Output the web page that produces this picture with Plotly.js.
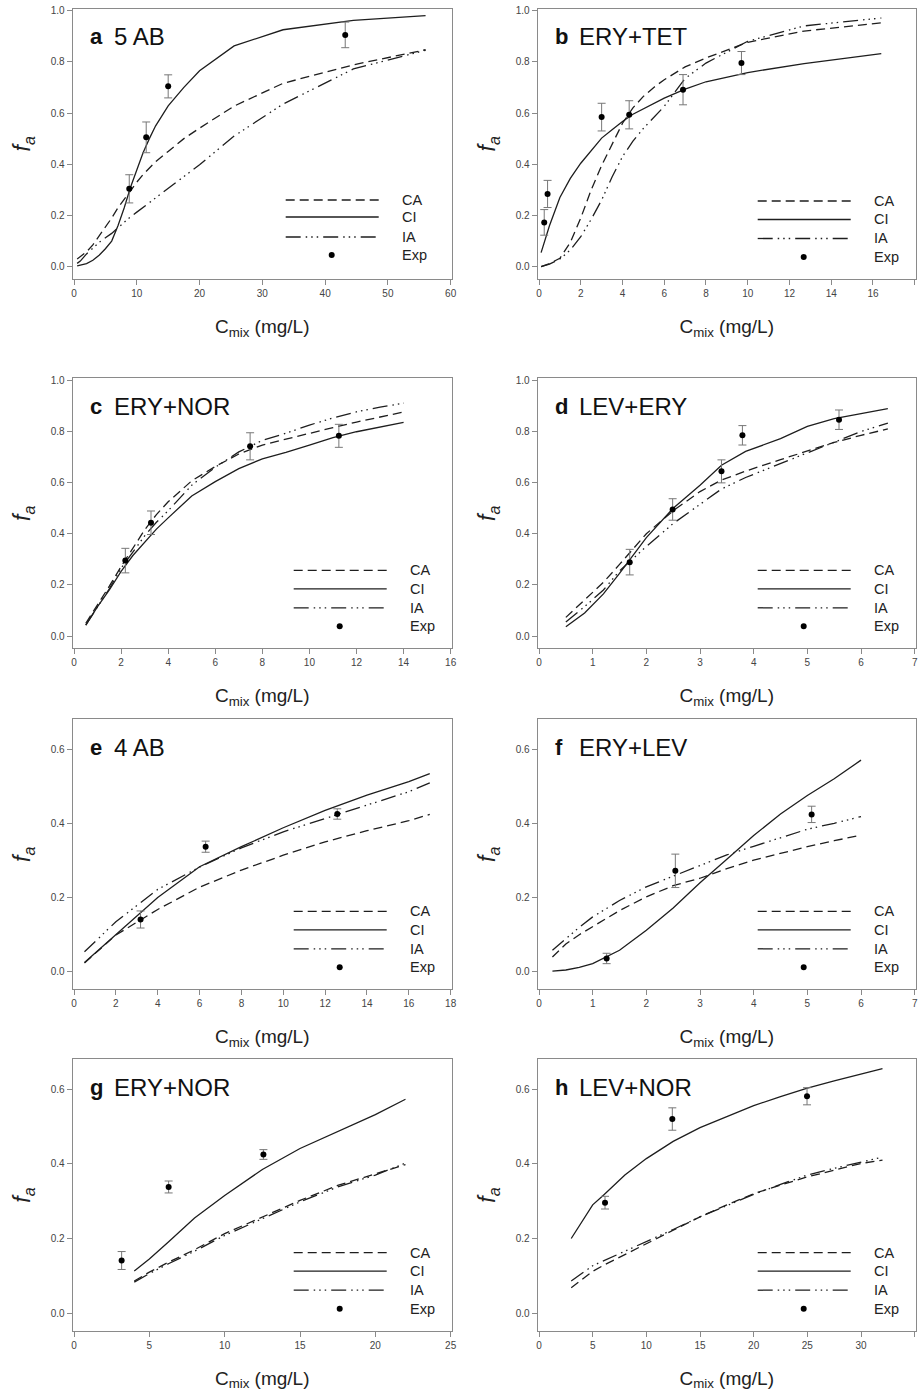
<!DOCTYPE html>
<html>
<head>
<meta charset="utf-8">
<script src="https://cdn.plot.ly/plotly-3.0.1.min.js"></script>
<style>html,body{margin:0;padding:0;background:#fff;}#chart{width:920px;height:1392px;}</style>
</head>
<body>
<div id="chart"></div>
<script>
// ---------- DATA ----------
// Panel a: 5 AB
const A_X   = [0.5, 1, 2, 3, 4, 5, 6, 7, 8, 9, 10, 11, 12, 13, 15, 17.5, 20, 25.5, 33.3, 44.5, 56];
const A_CA  = [0.03, 0.04, 0.058, 0.085, 0.12, 0.155, 0.19, 0.23, 0.265, 0.3, 0.33, 0.36, 0.385, 0.41, 0.45, 0.5, 0.541, 0.627, 0.716, 0.788, 0.847];
const A_CI  = [0.003, 0.005, 0.012, 0.025, 0.045, 0.07, 0.1, 0.16, 0.23, 0.31, 0.38, 0.445, 0.5, 0.55, 0.628, 0.70, 0.765, 0.862, 0.925, 0.962, 0.98];
const A_IA  = [0.013, 0.022, 0.05, 0.072, 0.095, 0.113, 0.13, 0.152, 0.175, 0.195, 0.213, 0.232, 0.25, 0.268, 0.305, 0.352, 0.398, 0.51, 0.635, 0.772, 0.845];
const A_EXP_X   = [8.8, 11.5, 15.0, 43.2];
const A_EXP_Y   = [0.304, 0.505, 0.704, 0.905];
const A_EXP_ERR = [0.055, 0.06, 0.045, 0.05];

// Panel b: ERY+TET
const B_X   = [0.1, 0.5, 1, 1.5, 2, 2.5, 3, 3.5, 4, 4.5, 5, 5.5, 6, 7, 8, 10, 12.7, 16.4];
const B_CA  = [0.0, 0.012, 0.033, 0.095, 0.19, 0.30, 0.395, 0.48, 0.56, 0.62, 0.665, 0.70, 0.73, 0.78, 0.815, 0.876, 0.92, 0.952];
const B_CI  = [0.055, 0.16, 0.27, 0.345, 0.404, 0.455, 0.502, 0.535, 0.567, 0.595, 0.617, 0.638, 0.658, 0.693, 0.722, 0.758, 0.793, 0.832];
const B_IA  = [0.0, 0.01, 0.03, 0.065, 0.117, 0.185, 0.26, 0.35, 0.43, 0.49, 0.54, 0.585, 0.626, 0.735, 0.795, 0.88, 0.94, 0.971];
const B_EXP_X   = [0.25, 0.41, 3.0, 4.32, 6.9, 9.7];
const B_EXP_Y   = [0.173, 0.284, 0.584, 0.593, 0.691, 0.795];
const B_EXP_ERR = [0.05, 0.053, 0.054, 0.055, 0.059, 0.045];

// Panel c: ERY+NOR
const C_X   = [0.5, 1, 1.5, 2, 2.5, 3, 3.5, 4, 5, 6, 7, 8, 9, 10, 11, 12, 13, 14];
const C_CA  = [0.05, 0.12, 0.195, 0.272, 0.345, 0.415, 0.475, 0.525, 0.607, 0.663, 0.712, 0.747, 0.77, 0.794, 0.815, 0.837, 0.857, 0.876];
const C_CI  = [0.043, 0.115, 0.18, 0.253, 0.315, 0.368, 0.418, 0.462, 0.548, 0.604, 0.655, 0.693, 0.718, 0.747, 0.776, 0.799, 0.818, 0.836];
const C_IA  = [0.043, 0.115, 0.185, 0.265, 0.33, 0.392, 0.445, 0.49, 0.59, 0.66, 0.72, 0.765, 0.793, 0.825, 0.853, 0.877, 0.895, 0.911];
const C_EXP_X   = [2.18, 3.27, 7.48, 11.25];
const C_EXP_Y   = [0.295, 0.443, 0.742, 0.783];
const C_EXP_ERR = [0.048, 0.046, 0.053, 0.045];

// Panel d: LEV+ERY
const D_X   = [0.5, 0.85, 1.2, 1.5, 2, 2.5, 3, 3.4, 3.85, 4.5, 5, 5.5, 6, 6.5];
const D_CA  = [0.073, 0.14, 0.21, 0.28, 0.40, 0.49, 0.565, 0.61, 0.645, 0.69, 0.725, 0.757, 0.785, 0.81];
const D_CI  = [0.036, 0.09, 0.165, 0.245, 0.385, 0.5, 0.59, 0.668, 0.722, 0.772, 0.82, 0.85, 0.87, 0.889];
const D_IA  = [0.055, 0.115, 0.18, 0.255, 0.35, 0.44, 0.515, 0.575, 0.62, 0.675, 0.715, 0.76, 0.80, 0.833];
const D_EXP_X   = [1.69, 2.49, 3.40, 3.79, 5.59];
const D_EXP_Y   = [0.289, 0.495, 0.644, 0.785, 0.846];
const D_EXP_ERR = [0.05, 0.042, 0.045, 0.038, 0.038];

// Panel e: 4 AB
const E_X   = [0.5, 2, 4, 6, 8, 10, 12, 14, 16, 17];
const E_CA  = [0.024, 0.099, 0.168, 0.228, 0.274, 0.314, 0.35, 0.38, 0.407, 0.424];
const E_CI  = [0.025, 0.099, 0.2, 0.283, 0.337, 0.388, 0.435, 0.476, 0.512, 0.534];
const E_IA  = [0.054, 0.135, 0.222, 0.282, 0.334, 0.377, 0.413, 0.449, 0.485, 0.509];
const E_EXP_X   = [3.18, 6.29, 12.58];
const E_EXP_Y   = [0.141, 0.337, 0.425];
const E_EXP_ERR = [0.023, 0.015, 0.014];

// Panel f: ERY+LEV
const F_X   = [0.25, 0.5, 0.75, 1, 1.5, 2, 2.5, 3, 3.5, 4, 4.5, 5, 5.5, 6];
const F_CA  = [0.04, 0.075, 0.1, 0.121, 0.165, 0.202, 0.232, 0.252, 0.278, 0.301, 0.32, 0.337, 0.353, 0.368];
const F_CI  = [0.002, 0.005, 0.012, 0.022, 0.058, 0.112, 0.172, 0.24, 0.303, 0.367, 0.425, 0.475, 0.52, 0.57];
const F_IA  = [0.058, 0.09, 0.12, 0.148, 0.192, 0.229, 0.258, 0.288, 0.315, 0.338, 0.362, 0.384, 0.4, 0.418];
const F_EXP_X   = [1.26, 2.54, 5.08];
const F_EXP_Y   = [0.036, 0.272, 0.424];
const F_EXP_ERR = [0.014, 0.045, 0.022];

// Panel g: ERY+NOR
const G_X   = [4, 5, 6.3, 8, 10, 12.5, 15, 17.5, 20, 22];
const G_CA  = [0.086, 0.11, 0.137, 0.17, 0.213, 0.257, 0.302, 0.342, 0.372, 0.398];
const G_CI  = [0.113, 0.145, 0.192, 0.255, 0.315, 0.385, 0.441, 0.487, 0.532, 0.573];
const G_IA  = [0.083, 0.106, 0.133, 0.166, 0.208, 0.252, 0.298, 0.338, 0.37, 0.402];
const G_EXP_X   = [3.16, 6.28, 12.57];
const G_EXP_Y   = [0.141, 0.338, 0.425];
const G_EXP_ERR = [0.024, 0.016, 0.013];

// Panel h: LEV+NOR
const H_X   = [3, 4, 5, 6, 8, 10, 12.5, 15, 17.5, 20, 22.5, 25, 27.5, 30, 32];
const H_CA  = [0.068, 0.09, 0.112, 0.128, 0.158, 0.186, 0.222, 0.258, 0.29, 0.32, 0.343, 0.365, 0.383, 0.401, 0.41];
const H_CI  = [0.2, 0.245, 0.29, 0.316, 0.37, 0.414, 0.46, 0.497, 0.527, 0.556, 0.58, 0.603, 0.622, 0.641, 0.655];
const H_IA  = [0.086, 0.107, 0.127, 0.14, 0.166, 0.19, 0.224, 0.258, 0.289, 0.318, 0.345, 0.37, 0.388, 0.405, 0.418];
const H_EXP_X   = [6.15, 12.42, 24.97];
const H_EXP_Y   = [0.296, 0.52, 0.581];
const H_EXP_ERR = [0.017, 0.03, 0.023];

const PANEL_LETTERS = ['a', 'b', 'c', 'd', 'e', 'f', 'g', 'h'];
const PANEL_NAMES   = ['5 AB', 'ERY+TET', 'ERY+NOR', 'LEV+ERY', '4 AB', 'ERY+LEV', 'ERY+NOR', 'LEV+NOR'];
const X_MAX   = [60, 18, 16, 7, 18, 7, 25, 35];
const X_DTICK = [10, 2, 2, 1, 2, 1, 5, 5];
const Y_MAX   = [1.0, 1.0, 1.0, 1.0, 0.6, 0.6, 0.6, 0.6];
const LEGEND_LABELS = ['CA', 'CI', 'IA', 'Exp'];

// ---------- BUILD ----------
const W = 920, H = 1392;
const FONT = 'Liberation Sans, Arial, Helvetica, sans-serif';
const LINE_COLOR = '#1e1e1e';
const STYLES = {
  CA: {dash: '9px,5px'},
  CI: {dash: 'solid'},
  IA: {dash: '15px,5px,1.5px,4px,1.5px,4px,1.5px,5px'}
};

const panels = [
  {x: A_X, CA: A_CA, CI: A_CI, IA: A_IA, ex: A_EXP_X, ey: A_EXP_Y, ee: A_EXP_ERR},
  {x: B_X, CA: B_CA, CI: B_CI, IA: B_IA, ex: B_EXP_X, ey: B_EXP_Y, ee: B_EXP_ERR},
  {x: C_X, CA: C_CA, CI: C_CI, IA: C_IA, ex: C_EXP_X, ey: C_EXP_Y, ee: C_EXP_ERR},
  {x: D_X, CA: D_CA, CI: D_CI, IA: D_IA, ex: D_EXP_X, ey: D_EXP_Y, ee: D_EXP_ERR},
  {x: E_X, CA: E_CA, CI: E_CI, IA: E_IA, ex: E_EXP_X, ey: E_EXP_Y, ee: E_EXP_ERR},
  {x: F_X, CA: F_CA, CI: F_CI, IA: F_IA, ex: F_EXP_X, ey: F_EXP_Y, ee: F_EXP_ERR},
  {x: G_X, CA: G_CA, CI: G_CI, IA: G_IA, ex: G_EXP_X, ey: G_EXP_Y, ee: G_EXP_ERR},
  {x: H_X, CA: H_CA, CI: H_CI, IA: H_IA, ex: H_EXP_X, ey: H_EXP_Y, ee: H_EXP_ERR}
];

// box edges in px
const COL_PX = [[72.7, 451.7], [537.7, 915.7]];
const ROW_PX = [[8.5, 279], [378.3, 648.3], [719.3, 989.3], [1059.3, 1330.7]];

const data = [];
const layout = {
  width: W, height: H,
  margin: {l: 0, r: 0, t: 0, b: 0},
  paper_bgcolor: '#ffffff', plot_bgcolor: '#ffffff',
  showlegend: false,
  font: {family: FONT, color: '#222'},
  shapes: [], annotations: []
};

panels.forEach((p, i) => {
  const col = i % 2, row = Math.floor(i / 2);
  const n = i === 0 ? '' : String(i + 1);
  const xa = 'x' + n, ya = 'y' + n;
  const [L, R] = COL_PX[col];
  const [T, B] = ROW_PX[row];
  const xd = [L / W, R / W];
  const yd = [1 - B / H, 1 - T / H];
  const xm = X_MAX[i], ym = Y_MAX[i];
  const yr = ym === 1.0 ? [-0.048, 1.008] : [-0.047, 0.68];

  layout['xaxis' + n] = {
    domain: xd, anchor: ya, range: [-0.0035 * xm, 1.0027 * xm],
    tickmode: 'linear', tick0: 0, dtick: X_DTICK[i],
    showline: true, mirror: true, linecolor: '#8a8a8a', linewidth: 1,
    ticks: 'outside', ticklen: 5, tickcolor: '#8a8a8a', tickwidth: 1,
    showgrid: false, zeroline: false,
    tickfont: {family: FONT, size: 10, color: '#444'},
    title: {text: 'C<sub>mix</sub> (mg/L)', font: {family: FONT, size: 19, color: '#222'}, standoff: 21}
  };
  layout['yaxis' + n] = {
    domain: yd, anchor: xa, range: yr,
    tickmode: 'linear', tick0: 0, dtick: 0.2, tickformat: '.1f',
    showline: true, mirror: true, linecolor: '#8a8a8a', linewidth: 1,
    ticks: 'outside', ticklen: 5, tickcolor: '#8a8a8a', tickwidth: 1,
    showgrid: false, zeroline: false,
    tickfont: {family: FONT, size: 10, color: '#444'},
    title: {text: '<i>f</i><sub><i>a</i></sub>', font: {family: FONT, size: 23, color: '#222'}, standoff: 13}
  };

  ['CA', 'IA', 'CI'].forEach(k => {
    data.push({
      type: 'scatter', mode: 'lines', x: p.x, y: p[k], xaxis: xa, yaxis: ya,
      name: k, line: {color: LINE_COLOR, width: 1.3, dash: STYLES[k].dash}, hoverinfo: 'skip'
    });
  });
  data.push({
    type: 'scatter', mode: 'markers', x: p.ex, y: p.ey, xaxis: xa, yaxis: ya, name: 'Exp',
    marker: {color: '#000', size: 6},
    error_y: {type: 'data', array: p.ee, visible: true, color: '#777', thickness: 1, width: 4}
  });

  // panel label
  const ly = 1 - (T + 28) / H;
  layout.annotations.push({
    xref: 'paper', yref: 'paper', x: (L + 15) / W, y: ly, xanchor: 'left', yanchor: 'middle',
    text: '<b>' + PANEL_LETTERS[i] + '</b>', showarrow: false,
    font: {family: FONT, size: 22, color: '#111'}
  });
  layout.annotations.push({
    xref: 'paper', yref: 'paper', x: (L + 39) / W, y: ly, xanchor: 'left', yanchor: 'middle',
    text: PANEL_NAMES[i], showarrow: false,
    font: {family: FONT, size: 24, color: '#111'}
  });

  // legend (drawn inside the panel, lower right)
  const sh = i === 0 ? -8 : 0;
  const rowsUp = i === 0 ? [79, 62, 42, 24] : [78, 59.5, 40.5, 22];
  const lx0 = (R - 158 + sh) / W, lx1 = (R - 65 + sh) / W;
  ['CA', 'CI', 'IA'].forEach((k, j) => {
    const yy = 1 - (B - rowsUp[j]) / H;
    layout.shapes.push({
      type: 'line', xref: 'paper', yref: 'paper', x0: lx0, x1: lx1, y0: yy, y1: yy,
      line: {color: LINE_COLOR, width: 1.3, dash: STYLES[k].dash}
    });
  });
  const mx = R - 112 + sh, my = B - rowsUp[3];
  layout.shapes.push({
    type: 'circle', xref: 'paper', yref: 'paper',
    x0: (mx - 3) / W, x1: (mx + 3) / W, y0: 1 - (my + 3) / H, y1: 1 - (my - 3) / H,
    fillcolor: '#000', line: {color: '#000', width: 0}
  });
  LEGEND_LABELS.forEach((lab, j) => {
    layout.annotations.push({
      xref: 'paper', yref: 'paper', x: (R - 44 + sh) / W, y: 1 - (B - rowsUp[j]) / H,
      xanchor: 'left', yanchor: 'middle', text: lab, showarrow: false,
      font: {family: FONT, size: 14.5, color: '#222'}
    });
  });
});

Plotly.newPlot('chart', data, layout, {staticPlot: true, displayModeBar: false});
</script>
</body>
</html>
